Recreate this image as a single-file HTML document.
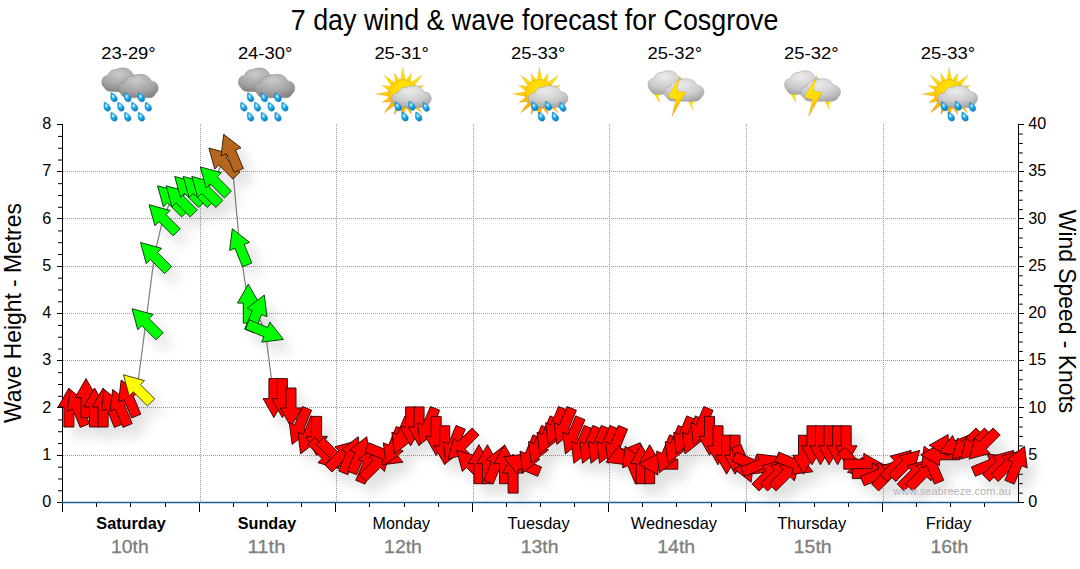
<!DOCTYPE html>
<html><head><meta charset="utf-8"><title>7 day wind &amp; wave forecast for Cosgrove</title>
<style>
html,body{margin:0;padding:0;background:#fff;}
body{width:1080px;height:569px;overflow:hidden;font-family:"Liberation Sans",sans-serif;}
svg{display:block;}
text{font-family:"Liberation Sans",sans-serif;}
</style></head><body>
<svg width="1080" height="569" viewBox="0 0 1080 569">
<defs>
<filter id="sh" x="-50%" y="-50%" width="250%" height="250%"><feGaussianBlur stdDeviation="6.5"/></filter>
</defs>
<rect width="1080" height="569" fill="#fff"/>

<text x="534.6" y="30" font-size="30" text-anchor="middle" fill="#000" textLength="487.6" lengthAdjust="spacingAndGlyphs">7 day wind &amp; wave forecast for Cosgrove</text>
<g stroke="#9a9a9a" stroke-width="1" stroke-dasharray="1 1" fill="none"><line x1="63.0" y1="455.5" x2="1016.0" y2="455.5"/><line x1="63.0" y1="407.5" x2="1016.0" y2="407.5"/><line x1="63.0" y1="360.5" x2="1016.0" y2="360.5"/><line x1="63.0" y1="313.5" x2="1016.0" y2="313.5"/><line x1="63.0" y1="266.5" x2="1016.0" y2="266.5"/><line x1="63.0" y1="218.5" x2="1016.0" y2="218.5"/><line x1="63.0" y1="171.5" x2="1016.0" y2="171.5"/><line x1="200.5" y1="124.0" x2="200.5" y2="502.0"/><line x1="336.5" y1="124.0" x2="336.5" y2="502.0"/><line x1="473.5" y1="124.0" x2="473.5" y2="502.0"/><line x1="609.5" y1="124.0" x2="609.5" y2="502.0"/><line x1="746.5" y1="124.0" x2="746.5" y2="502.0"/><line x1="883.5" y1="124.0" x2="883.5" y2="502.0"/></g>
<g stroke="#000" stroke-width="1" fill="none"><line x1="62.5" y1="124.0" x2="62.5" y2="512.0"/><line x1="1018.5" y1="124.0" x2="1018.5" y2="503.0"/><line x1="57" y1="502.5" x2="62" y2="502.5"/><line x1="58" y1="490.79" x2="62" y2="490.79"/><line x1="58" y1="478.98" x2="62" y2="478.98"/><line x1="58" y1="467.16" x2="62" y2="467.16"/><line x1="57" y1="455.5" x2="62" y2="455.5"/><line x1="58" y1="443.54" x2="62" y2="443.54"/><line x1="58" y1="431.73" x2="62" y2="431.73"/><line x1="58" y1="419.91" x2="62" y2="419.91"/><line x1="57" y1="407.5" x2="62" y2="407.5"/><line x1="58" y1="396.29" x2="62" y2="396.29"/><line x1="58" y1="384.48" x2="62" y2="384.48"/><line x1="58" y1="372.66" x2="62" y2="372.66"/><line x1="57" y1="360.5" x2="62" y2="360.5"/><line x1="58" y1="349.04" x2="62" y2="349.04"/><line x1="58" y1="337.23" x2="62" y2="337.23"/><line x1="58" y1="325.41" x2="62" y2="325.41"/><line x1="57" y1="313.5" x2="62" y2="313.5"/><line x1="58" y1="301.79" x2="62" y2="301.79"/><line x1="58" y1="289.98" x2="62" y2="289.98"/><line x1="58" y1="278.16" x2="62" y2="278.16"/><line x1="57" y1="266.5" x2="62" y2="266.5"/><line x1="58" y1="254.54" x2="62" y2="254.54"/><line x1="58" y1="242.72" x2="62" y2="242.72"/><line x1="58" y1="230.91" x2="62" y2="230.91"/><line x1="57" y1="218.5" x2="62" y2="218.5"/><line x1="58" y1="207.29" x2="62" y2="207.29"/><line x1="58" y1="195.47" x2="62" y2="195.47"/><line x1="58" y1="183.66" x2="62" y2="183.66"/><line x1="57" y1="171.5" x2="62" y2="171.5"/><line x1="58" y1="160.04" x2="62" y2="160.04"/><line x1="58" y1="148.22" x2="62" y2="148.22"/><line x1="58" y1="136.41" x2="62" y2="136.41"/><line x1="57" y1="124.5" x2="62" y2="124.5"/><line x1="1019" y1="502.5" x2="1024" y2="502.5"/><line x1="1019" y1="493.15" x2="1022.8" y2="493.15"/><line x1="1019" y1="483.7" x2="1022.8" y2="483.7"/><line x1="1019" y1="474.25" x2="1022.8" y2="474.25"/><line x1="1019" y1="464.8" x2="1022.8" y2="464.8"/><line x1="1019" y1="455.5" x2="1024" y2="455.5"/><line x1="1019" y1="445.9" x2="1022.8" y2="445.9"/><line x1="1019" y1="436.45" x2="1022.8" y2="436.45"/><line x1="1019" y1="427.0" x2="1022.8" y2="427.0"/><line x1="1019" y1="417.55" x2="1022.8" y2="417.55"/><line x1="1019" y1="407.5" x2="1024" y2="407.5"/><line x1="1019" y1="398.65" x2="1022.8" y2="398.65"/><line x1="1019" y1="389.2" x2="1022.8" y2="389.2"/><line x1="1019" y1="379.75" x2="1022.8" y2="379.75"/><line x1="1019" y1="370.3" x2="1022.8" y2="370.3"/><line x1="1019" y1="360.5" x2="1024" y2="360.5"/><line x1="1019" y1="351.4" x2="1022.8" y2="351.4"/><line x1="1019" y1="341.95" x2="1022.8" y2="341.95"/><line x1="1019" y1="332.5" x2="1022.8" y2="332.5"/><line x1="1019" y1="323.05" x2="1022.8" y2="323.05"/><line x1="1019" y1="313.5" x2="1024" y2="313.5"/><line x1="1019" y1="304.15" x2="1022.8" y2="304.15"/><line x1="1019" y1="294.7" x2="1022.8" y2="294.7"/><line x1="1019" y1="285.25" x2="1022.8" y2="285.25"/><line x1="1019" y1="275.8" x2="1022.8" y2="275.8"/><line x1="1019" y1="266.5" x2="1024" y2="266.5"/><line x1="1019" y1="256.9" x2="1022.8" y2="256.9"/><line x1="1019" y1="247.45" x2="1022.8" y2="247.45"/><line x1="1019" y1="238.0" x2="1022.8" y2="238.0"/><line x1="1019" y1="228.55" x2="1022.8" y2="228.55"/><line x1="1019" y1="218.5" x2="1024" y2="218.5"/><line x1="1019" y1="209.65" x2="1022.8" y2="209.65"/><line x1="1019" y1="200.2" x2="1022.8" y2="200.2"/><line x1="1019" y1="190.75" x2="1022.8" y2="190.75"/><line x1="1019" y1="181.3" x2="1022.8" y2="181.3"/><line x1="1019" y1="171.5" x2="1024" y2="171.5"/><line x1="1019" y1="162.4" x2="1022.8" y2="162.4"/><line x1="1019" y1="152.95" x2="1022.8" y2="152.95"/><line x1="1019" y1="143.5" x2="1022.8" y2="143.5"/><line x1="1019" y1="134.05" x2="1022.8" y2="134.05"/><line x1="1019" y1="124.5" x2="1024" y2="124.5"/><line x1="62.5" y1="502.0" x2="62.5" y2="512.0"/><line x1="96.5" y1="502.0" x2="96.5" y2="507.0"/><line x1="130.5" y1="502.0" x2="130.5" y2="507.0"/><line x1="165.5" y1="502.0" x2="165.5" y2="507.0"/><line x1="199.5" y1="502.0" x2="199.5" y2="512.0"/><line x1="233.5" y1="502.0" x2="233.5" y2="507.0"/><line x1="267.5" y1="502.0" x2="267.5" y2="507.0"/><line x1="301.5" y1="502.0" x2="301.5" y2="507.0"/><line x1="335.5" y1="502.0" x2="335.5" y2="512.0"/><line x1="369.5" y1="502.0" x2="369.5" y2="507.0"/><line x1="404.5" y1="502.0" x2="404.5" y2="507.0"/><line x1="438.5" y1="502.0" x2="438.5" y2="507.0"/><line x1="472.5" y1="502.0" x2="472.5" y2="512.0"/><line x1="506.5" y1="502.0" x2="506.5" y2="507.0"/><line x1="540.5" y1="502.0" x2="540.5" y2="507.0"/><line x1="574.5" y1="502.0" x2="574.5" y2="507.0"/><line x1="608.5" y1="502.0" x2="608.5" y2="512.0"/><line x1="642.5" y1="502.0" x2="642.5" y2="507.0"/><line x1="676.5" y1="502.0" x2="676.5" y2="507.0"/><line x1="711.5" y1="502.0" x2="711.5" y2="507.0"/><line x1="745.5" y1="502.0" x2="745.5" y2="512.0"/><line x1="779.5" y1="502.0" x2="779.5" y2="507.0"/><line x1="814.5" y1="502.0" x2="814.5" y2="507.0"/><line x1="848.5" y1="502.0" x2="848.5" y2="507.0"/><line x1="882.5" y1="502.0" x2="882.5" y2="512.0"/><line x1="916.5" y1="502.0" x2="916.5" y2="507.0"/><line x1="950.5" y1="502.0" x2="950.5" y2="507.0"/><line x1="984.5" y1="502.0" x2="984.5" y2="507.0"/></g>
<line x1="62.0" y1="502.5" x2="1018.0" y2="502.5" stroke="#1f5f98" stroke-width="1.5"/>
<polyline points="68.9,407.5 77.4,407.5 86.0,398.1 94.5,407.5 103.1,407.5 111.6,407.5 120.1,407.5 128.7,398.1 137.2,388.6 145.8,322.5 154.3,256.3 162.9,218.5 171.4,199.6 179.9,199.6 188.5,190.2 197.0,190.2 205.6,190.2 214.1,180.7 222.6,161.8 231.2,152.4 239.7,246.9 248.3,303.6 256.8,313.0 265.4,331.9 273.9,398.1 282.4,398.1 291.0,407.5 299.5,426.4 308.1,435.9 316.6,435.9 325.1,454.8 333.7,454.8 342.2,454.8 350.8,454.8 359.3,454.8 367.8,464.2 376.4,464.2 384.9,454.8 393.5,446.4 402.0,435.9 410.6,426.4 419.1,426.4 427.6,426.4 436.2,435.9 444.7,445.3 453.3,445.3 461.8,445.3 470.3,464.2 478.9,464.2 487.4,464.2 496.0,464.2 504.5,464.2 513.1,473.6 521.6,464.2 530.1,454.8 538.7,445.3 547.2,435.9 555.8,426.4 564.3,426.4 572.8,435.9 581.4,445.3 589.9,445.3 598.5,445.3 607.0,445.3 615.5,445.3 624.1,454.8 632.6,464.2 641.2,464.2 649.7,464.2 658.3,464.2 666.8,454.8 675.3,445.3 683.9,435.9 692.4,435.9 701.0,426.4 709.5,435.9 718.0,445.3 726.6,454.8 735.1,454.8 743.7,464.2 752.2,464.2 760.8,464.2 769.3,473.6 777.8,473.6 786.4,473.6 794.9,464.2 803.5,454.8 812.0,445.3 820.5,445.3 829.1,445.3 837.6,445.3 846.2,445.3 854.7,464.2 863.3,464.2 871.8,473.6 880.3,473.6 888.9,473.6 897.4,464.2 906.0,464.2 914.5,473.6 923.0,473.6 931.6,464.2 940.1,454.8 948.7,445.3 957.2,445.3 965.7,445.3 974.3,445.3 982.8,445.3 991.4,464.2 999.9,464.2 1008.5,464.2 1017.0,464.2" fill="none" stroke="#808080" stroke-width="1.2"/>
<g fill="#000" opacity="0.125" filter="url(#sh)"><path d="M77.9 399.0 L88.7 418.0 L82.9 418.0 L82.9 438.0 L72.9 438.0 L72.9 418.0 L67.1 418.0Z"/><path d="M79.0 400.5 L96.2 413.9 L90.9 416.1 L98.5 434.6 L89.3 438.4 L81.6 420.0 L76.3 422.2Z"/><path d="M95.0 389.6 L105.8 408.6 L100.0 408.6 L100.0 428.6 L90.0 428.6 L90.0 408.6 L84.2 408.6Z"/><path d="M103.5 399.0 L114.3 418.0 L108.5 418.0 L108.5 438.0 L98.5 438.0 L98.5 418.0 L92.7 418.0Z"/><path d="M112.1 399.0 L122.9 418.0 L117.1 418.0 L117.1 438.0 L107.1 438.0 L107.1 418.0 L101.3 418.0Z"/><path d="M113.1 400.5 L130.4 413.9 L125.0 416.1 L132.7 434.6 L123.4 438.4 L115.8 420.0 L110.4 422.2Z"/><path d="M121.7 400.5 L138.9 413.9 L133.6 416.1 L141.2 434.6 L132.0 438.4 L124.3 420.0 L119.0 422.2Z"/><path d="M130.2 391.0 L147.5 404.5 L142.1 406.7 L149.8 425.2 L140.5 429.0 L132.9 410.5 L127.5 412.7Z"/><path d="M132.4 385.8 L153.5 391.6 L149.4 395.7 L163.6 409.9 L156.5 416.9 L142.3 402.8 L138.2 406.9Z"/><path d="M141.0 319.7 L162.1 325.5 L158.0 329.6 L172.1 343.7 L165.0 350.8 L150.9 336.6 L146.8 340.7Z"/><path d="M149.5 253.5 L170.6 259.3 L166.5 263.4 L180.6 277.6 L173.6 284.6 L159.4 270.5 L155.3 274.6Z"/><path d="M158.1 215.7 L179.1 221.5 L175.0 225.6 L189.2 239.8 L182.1 246.8 L168.0 232.7 L163.9 236.8Z"/><path d="M166.6 196.8 L187.7 202.6 L183.6 206.7 L197.7 220.9 L190.6 227.9 L176.5 213.8 L172.4 217.9Z"/><path d="M175.1 196.8 L196.2 202.6 L192.1 206.7 L206.3 220.9 L199.2 227.9 L185.0 213.8 L180.9 217.9Z"/><path d="M183.7 187.4 L204.8 193.2 L200.7 197.3 L214.8 211.4 L207.7 218.5 L193.6 204.3 L189.5 208.4Z"/><path d="M192.2 187.4 L213.3 193.2 L209.2 197.3 L223.3 211.4 L216.3 218.5 L202.1 204.3 L198.0 208.4Z"/><path d="M200.8 187.4 L221.8 193.2 L217.7 197.3 L231.9 211.4 L224.8 218.5 L210.7 204.3 L206.6 208.4Z"/><path d="M209.3 177.9 L230.4 183.7 L226.3 187.8 L240.4 202.0 L233.4 209.0 L219.2 194.9 L215.1 199.0Z"/><path d="M217.9 159.0 L238.9 164.8 L234.8 168.9 L249.0 183.1 L241.9 190.1 L227.8 176.0 L223.7 180.1Z"/><path d="M232.7 145.3 L250.0 158.8 L244.6 161.0 L252.3 179.5 L243.0 183.3 L235.4 164.8 L230.0 167.0Z"/><path d="M241.3 239.8 L258.5 253.3 L253.2 255.5 L260.8 274.0 L251.6 277.8 L243.9 259.3 L238.6 261.5Z"/><path d="M257.3 295.1 L268.1 314.1 L262.3 314.1 L262.3 334.1 L252.3 334.1 L252.3 314.1 L246.5 314.1Z"/><path d="M273.3 306.0 L276.0 327.7 L270.6 325.5 L263.0 343.9 L253.7 340.1 L261.4 321.6 L256.0 319.4Z"/><path d="M292.4 350.4 L270.7 353.1 L272.9 347.7 L254.4 340.1 L258.2 330.8 L276.7 338.5 L278.9 333.1Z"/><path d="M282.9 428.6 L272.1 409.6 L277.9 409.6 L277.9 389.6 L287.9 389.6 L287.9 409.6 L293.7 409.6Z"/><path d="M291.4 428.6 L280.6 409.6 L286.4 409.6 L286.4 389.6 L296.4 389.6 L296.4 409.6 L302.2 409.6Z"/><path d="M300.0 438.0 L289.2 419.0 L295.0 419.0 L295.0 399.0 L305.0 399.0 L305.0 419.0 L310.8 419.0Z"/><path d="M301.1 455.4 L298.3 433.7 L303.7 435.9 L311.4 417.5 L320.6 421.3 L312.9 439.8 L318.3 442.0Z"/><path d="M309.6 464.9 L306.9 443.2 L312.2 445.4 L319.9 426.9 L329.1 430.7 L321.5 449.2 L326.8 451.4Z"/><path d="M325.6 466.4 L314.8 447.4 L320.6 447.4 L320.6 427.4 L330.6 427.4 L330.6 447.4 L336.4 447.4Z"/><path d="M347.9 479.5 L326.9 473.7 L331.0 469.6 L316.8 455.5 L323.9 448.4 L338.0 462.6 L342.1 458.5Z"/><path d="M356.5 479.5 L335.4 473.7 L339.5 469.6 L325.4 455.5 L332.4 448.4 L346.6 462.6 L350.7 458.5Z"/><path d="M365.0 452.0 L359.2 473.0 L355.1 468.9 L341.0 483.1 L333.9 476.0 L348.0 461.9 L343.9 457.8Z"/><path d="M367.2 447.7 L369.9 469.4 L364.6 467.2 L356.9 485.7 L347.7 481.9 L355.3 463.4 L350.0 461.2Z"/><path d="M375.8 447.7 L378.5 469.4 L373.1 467.2 L365.5 485.7 L356.2 481.9 L363.9 463.4 L358.5 461.2Z"/><path d="M384.3 457.2 L387.0 478.9 L381.7 476.7 L374.0 495.1 L364.8 491.3 L372.4 472.8 L367.1 470.6Z"/><path d="M399.2 461.4 L393.4 482.5 L389.3 478.4 L375.1 492.5 L368.1 485.5 L382.2 471.3 L378.1 467.2Z"/><path d="M411.9 473.2 L390.3 475.9 L392.5 470.6 L374.0 462.9 L377.8 453.7 L396.3 461.3 L398.5 456.0Z"/><path d="M395.0 475.4 L392.3 453.8 L397.7 456.0 L405.3 437.5 L414.6 441.3 L406.9 459.8 L412.3 462.0Z"/><path d="M403.6 464.9 L400.8 443.2 L406.2 445.4 L413.9 426.9 L423.1 430.7 L415.4 449.2 L420.8 451.4Z"/><path d="M419.6 456.9 L408.8 437.9 L414.6 437.9 L414.6 417.9 L424.6 417.9 L424.6 437.9 L430.4 437.9Z"/><path d="M428.1 456.9 L417.3 437.9 L423.1 437.9 L423.1 417.9 L433.1 417.9 L433.1 437.9 L438.9 437.9Z"/><path d="M429.2 455.4 L426.5 433.7 L431.8 435.9 L439.5 417.5 L448.7 421.3 L441.1 439.8 L446.4 442.0Z"/><path d="M445.2 466.4 L434.4 447.4 L440.2 447.4 L440.2 427.4 L450.2 427.4 L450.2 447.4 L456.0 447.4Z"/><path d="M453.7 475.8 L442.9 456.8 L448.7 456.8 L448.7 436.8 L458.7 436.8 L458.7 456.8 L464.5 456.8Z"/><path d="M454.8 474.3 L452.1 452.6 L457.5 454.8 L465.1 436.4 L474.3 440.2 L466.7 458.7 L472.0 460.9Z"/><path d="M457.0 470.1 L462.8 449.0 L466.9 453.1 L481.1 439.0 L488.1 446.0 L474.0 460.2 L478.1 464.3Z"/><path d="M465.6 461.4 L486.6 467.2 L482.5 471.3 L496.7 485.5 L489.6 492.5 L475.5 478.4 L471.4 482.5Z"/><path d="M487.9 455.7 L498.7 474.7 L492.9 474.7 L492.9 494.7 L482.9 494.7 L482.9 474.7 L477.1 474.7Z"/><path d="M496.4 455.7 L507.2 474.7 L501.4 474.7 L501.4 494.7 L491.4 494.7 L491.4 474.7 L485.6 474.7Z"/><path d="M512.4 457.2 L515.1 478.9 L509.8 476.7 L502.1 495.1 L492.9 491.3 L500.5 472.8 L495.2 470.6Z"/><path d="M513.5 455.7 L524.3 474.7 L518.5 474.7 L518.5 494.7 L508.5 494.7 L508.5 474.7 L502.7 474.7Z"/><path d="M522.1 465.1 L532.9 484.1 L527.1 484.1 L527.1 504.1 L517.1 504.1 L517.1 484.1 L511.3 484.1Z"/><path d="M512.6 467.7 L534.3 465.0 L532.0 470.4 L550.5 478.0 L546.7 487.3 L528.2 479.6 L526.0 485.0Z"/><path d="M531.7 483.8 L529.0 462.1 L534.3 464.3 L542.0 445.8 L551.2 449.6 L543.6 468.1 L548.9 470.3Z"/><path d="M540.2 474.3 L537.5 452.6 L542.9 454.8 L550.5 436.4 L559.8 440.2 L552.1 458.7 L557.5 460.9Z"/><path d="M548.8 464.9 L546.0 443.2 L551.4 445.4 L559.1 426.9 L568.3 430.7 L560.6 449.2 L566.0 451.4Z"/><path d="M557.3 455.4 L554.6 433.7 L559.9 435.9 L567.6 417.5 L576.8 421.3 L569.2 439.8 L574.5 442.0Z"/><path d="M565.8 455.4 L563.1 433.7 L568.5 435.9 L576.1 417.5 L585.4 421.3 L577.7 439.8 L583.1 442.0Z"/><path d="M574.4 464.9 L571.7 443.2 L577.0 445.4 L584.7 426.9 L593.9 430.7 L586.3 449.2 L591.6 451.4Z"/><path d="M582.9 474.3 L580.2 452.6 L585.6 454.8 L593.2 436.4 L602.5 440.2 L594.8 458.7 L600.2 460.9Z"/><path d="M591.5 474.3 L588.8 452.6 L594.1 454.8 L601.8 436.4 L611.0 440.2 L603.4 458.7 L608.7 460.9Z"/><path d="M600.0 474.3 L597.3 452.6 L602.7 454.8 L610.3 436.4 L619.5 440.2 L611.9 458.7 L617.3 460.9Z"/><path d="M608.5 474.3 L605.8 452.6 L611.2 454.8 L618.9 436.4 L628.1 440.2 L620.4 458.7 L625.8 460.9Z"/><path d="M617.1 474.3 L614.4 452.6 L619.7 454.8 L627.4 436.4 L636.6 440.2 L629.0 458.7 L634.3 460.9Z"/><path d="M615.1 473.2 L628.5 456.0 L630.7 461.3 L649.2 453.7 L653.0 462.9 L634.5 470.6 L636.8 475.9Z"/><path d="M634.2 457.2 L651.4 470.6 L646.1 472.8 L653.7 491.3 L644.5 495.1 L636.8 476.7 L631.5 478.9Z"/><path d="M650.2 455.7 L661.0 474.7 L655.2 474.7 L655.2 494.7 L645.2 494.7 L645.2 474.7 L639.4 474.7Z"/><path d="M658.7 455.7 L669.5 474.7 L663.7 474.7 L663.7 494.7 L653.7 494.7 L653.7 474.7 L647.9 474.7Z"/><path d="M647.8 475.2 L666.8 464.4 L666.8 470.2 L686.8 470.2 L686.8 480.2 L666.8 480.2 L666.8 486.0Z"/><path d="M668.3 483.8 L665.6 462.1 L671.0 464.3 L678.6 445.8 L687.9 449.6 L680.2 468.1 L685.6 470.3Z"/><path d="M676.9 474.3 L674.2 452.6 L679.5 454.8 L687.2 436.4 L696.4 440.2 L688.8 458.7 L694.1 460.9Z"/><path d="M685.4 464.9 L682.7 443.2 L688.1 445.4 L695.7 426.9 L705.0 430.7 L697.3 449.2 L702.7 451.4Z"/><path d="M694.0 464.9 L691.3 443.2 L696.6 445.4 L704.3 426.9 L713.5 430.7 L705.9 449.2 L711.2 451.4Z"/><path d="M702.5 455.4 L699.8 433.7 L705.2 435.9 L712.8 417.5 L722.0 421.3 L714.4 439.8 L719.8 442.0Z"/><path d="M718.5 466.4 L707.7 447.4 L713.5 447.4 L713.5 427.4 L723.5 427.4 L723.5 447.4 L729.3 447.4Z"/><path d="M727.0 475.8 L716.2 456.8 L722.0 456.8 L722.0 436.8 L732.0 436.8 L732.0 456.8 L737.8 456.8Z"/><path d="M735.6 485.2 L724.8 466.2 L730.6 466.2 L730.6 446.2 L740.6 446.2 L740.6 466.2 L746.4 466.2Z"/><path d="M744.1 485.2 L733.3 466.2 L739.1 466.2 L739.1 446.2 L749.1 446.2 L749.1 466.2 L754.9 466.2Z"/><path d="M760.1 493.2 L742.9 479.8 L748.2 477.6 L740.6 459.1 L749.8 455.3 L757.5 473.7 L762.8 471.5Z"/><path d="M779.2 482.7 L757.5 485.4 L759.8 480.0 L741.3 472.4 L745.1 463.1 L763.6 470.8 L765.8 465.4Z"/><path d="M787.8 467.7 L774.3 485.0 L772.1 479.6 L753.7 487.3 L749.8 478.0 L768.3 470.4 L766.1 465.0Z"/><path d="M792.1 470.9 L786.3 491.9 L782.2 487.8 L768.0 502.0 L761.0 494.9 L775.1 480.8 L771.0 476.7Z"/><path d="M800.6 470.9 L794.8 491.9 L790.7 487.8 L776.6 502.0 L769.5 494.9 L783.7 480.8 L779.6 476.7Z"/><path d="M809.2 470.9 L803.4 491.9 L799.3 487.8 L785.1 502.0 L778.1 494.9 L792.2 480.8 L788.1 476.7Z"/><path d="M821.9 482.7 L800.2 485.4 L802.5 480.0 L784.0 472.4 L787.8 463.1 L806.3 470.8 L808.5 465.4Z"/><path d="M812.5 485.2 L801.7 466.2 L807.5 466.2 L807.5 446.2 L817.5 446.2 L817.5 466.2 L823.3 466.2Z"/><path d="M821.0 475.8 L810.2 456.8 L816.0 456.8 L816.0 436.8 L826.0 436.8 L826.0 456.8 L831.8 456.8Z"/><path d="M829.5 475.8 L818.7 456.8 L824.5 456.8 L824.5 436.8 L834.5 436.8 L834.5 456.8 L840.3 456.8Z"/><path d="M838.1 475.8 L827.3 456.8 L833.1 456.8 L833.1 436.8 L843.1 436.8 L843.1 456.8 L848.9 456.8Z"/><path d="M846.6 475.8 L835.8 456.8 L841.6 456.8 L841.6 436.8 L851.6 436.8 L851.6 456.8 L857.4 456.8Z"/><path d="M855.2 475.8 L844.4 456.8 L850.2 456.8 L850.2 436.8 L860.2 436.8 L860.2 456.8 L866.0 456.8Z"/><path d="M877.5 489.0 L856.4 483.2 L860.5 479.1 L846.4 464.9 L853.5 457.9 L867.6 472.0 L871.7 467.9Z"/><path d="M891.8 475.2 L872.8 486.0 L872.8 480.2 L852.8 480.2 L852.8 470.2 L872.8 470.2 L872.8 464.4Z"/><path d="M900.3 484.6 L881.3 495.4 L881.3 489.6 L861.3 489.6 L861.3 479.6 L881.3 479.6 L881.3 473.8Z"/><path d="M907.3 477.2 L893.9 494.4 L891.7 489.1 L873.2 496.7 L869.4 487.5 L887.9 479.8 L885.7 474.5Z"/><path d="M911.7 470.9 L905.9 491.9 L901.8 487.8 L887.6 502.0 L880.6 494.9 L894.7 480.8 L890.6 476.7Z"/><path d="M920.2 461.4 L914.4 482.5 L910.3 478.4 L896.2 492.5 L889.1 485.5 L903.2 471.3 L899.1 467.2Z"/><path d="M928.7 461.4 L922.9 482.5 L918.8 478.4 L904.7 492.5 L897.6 485.5 L911.8 471.3 L907.7 467.2Z"/><path d="M937.3 470.9 L931.5 491.9 L927.4 487.8 L913.2 502.0 L906.2 494.9 L920.3 480.8 L916.2 476.7Z"/><path d="M945.8 470.9 L940.0 491.9 L935.9 487.8 L921.8 502.0 L914.7 494.9 L928.9 480.8 L924.8 476.7Z"/><path d="M933.1 457.2 L950.4 470.6 L945.0 472.8 L952.7 491.3 L943.4 495.1 L935.8 476.7 L930.4 478.9Z"/><path d="M929.6 465.8 L948.6 454.9 L948.6 460.8 L968.6 460.8 L968.6 470.8 L948.6 470.8 L948.6 476.6Z"/><path d="M938.2 456.3 L957.2 445.5 L957.2 451.3 L977.2 451.3 L977.2 461.3 L957.2 461.3 L957.2 467.1Z"/><path d="M948.2 463.8 L961.6 446.5 L963.8 451.9 L982.3 444.2 L986.1 453.5 L967.7 461.1 L969.9 466.5Z"/><path d="M961.0 470.1 L966.8 449.0 L970.9 453.1 L985.0 439.0 L992.1 446.0 L977.9 460.2 L982.0 464.3Z"/><path d="M969.5 470.1 L975.3 449.0 L979.4 453.1 L993.5 439.0 L1000.6 446.0 L986.5 460.2 L990.6 464.3Z"/><path d="M978.0 470.1 L983.8 449.0 L987.9 453.1 L1002.1 439.0 L1009.2 446.0 L995.0 460.2 L999.1 464.3Z"/><path d="M1018.4 467.7 L1005.0 485.0 L1002.7 479.6 L984.3 487.3 L980.4 478.0 L998.9 470.4 L996.7 465.0Z"/><path d="M1022.7 461.4 L1016.9 482.5 L1012.8 478.4 L998.7 492.5 L991.6 485.5 L1005.7 471.3 L1001.6 467.2Z"/><path d="M1031.2 461.4 L1025.4 482.5 L1021.3 478.4 L1007.2 492.5 L1000.1 485.5 L1014.3 471.3 L1010.2 467.2Z"/><path d="M1033.5 457.2 L1036.2 478.9 L1030.8 476.7 L1023.2 495.1 L1013.9 491.3 L1021.6 472.8 L1016.2 470.6Z"/></g>
<path d="M68.9 388.0 L79.7 407.0 L73.9 407.0 L73.9 427.0 L63.9 427.0 L63.9 407.0 L58.1 407.0Z" fill="#ff0000" stroke="#2a0000" stroke-width="0.9" stroke-linejoin="miter"/>
<path d="M70.0 389.5 L87.2 402.9 L81.9 405.1 L89.5 423.6 L80.3 427.4 L72.6 409.0 L67.3 411.2Z" fill="#ff0000" stroke="#2a0000" stroke-width="0.9" stroke-linejoin="miter"/>
<path d="M86.0 378.6 L96.8 397.6 L91.0 397.6 L91.0 417.6 L81.0 417.6 L81.0 397.6 L75.2 397.6Z" fill="#ff0000" stroke="#2a0000" stroke-width="0.9" stroke-linejoin="miter"/>
<path d="M94.5 388.0 L105.3 407.0 L99.5 407.0 L99.5 427.0 L89.5 427.0 L89.5 407.0 L83.7 407.0Z" fill="#ff0000" stroke="#2a0000" stroke-width="0.9" stroke-linejoin="miter"/>
<path d="M103.1 388.0 L113.9 407.0 L108.1 407.0 L108.1 427.0 L98.1 427.0 L98.1 407.0 L92.3 407.0Z" fill="#ff0000" stroke="#2a0000" stroke-width="0.9" stroke-linejoin="miter"/>
<path d="M104.1 389.5 L121.4 402.9 L116.0 405.1 L123.7 423.6 L114.4 427.4 L106.8 409.0 L101.4 411.2Z" fill="#ff0000" stroke="#2a0000" stroke-width="0.9" stroke-linejoin="miter"/>
<path d="M112.7 389.5 L129.9 402.9 L124.6 405.1 L132.2 423.6 L123.0 427.4 L115.3 409.0 L110.0 411.2Z" fill="#ff0000" stroke="#2a0000" stroke-width="0.9" stroke-linejoin="miter"/>
<path d="M121.2 380.0 L138.5 393.5 L133.1 395.7 L140.8 414.2 L131.5 418.0 L123.9 399.5 L118.5 401.7Z" fill="#ff0000" stroke="#2a0000" stroke-width="0.9" stroke-linejoin="miter"/>
<path d="M123.4 374.8 L144.5 380.6 L140.4 384.7 L154.6 398.9 L147.5 405.9 L133.3 391.8 L129.2 395.9Z" fill="#ffff00" stroke="#303000" stroke-width="0.9" stroke-linejoin="miter"/>
<path d="M132.0 308.7 L153.1 314.5 L149.0 318.6 L163.1 332.7 L156.0 339.8 L141.9 325.6 L137.8 329.7Z" fill="#00ff00" stroke="#003000" stroke-width="0.9" stroke-linejoin="miter"/>
<path d="M140.5 242.5 L161.6 248.3 L157.5 252.4 L171.6 266.6 L164.6 273.6 L150.4 259.5 L146.3 263.6Z" fill="#00ff00" stroke="#003000" stroke-width="0.9" stroke-linejoin="miter"/>
<path d="M149.1 204.7 L170.1 210.5 L166.0 214.6 L180.2 228.8 L173.1 235.8 L159.0 221.7 L154.9 225.8Z" fill="#00ff00" stroke="#003000" stroke-width="0.9" stroke-linejoin="miter"/>
<path d="M157.6 185.8 L178.7 191.6 L174.6 195.7 L188.7 209.9 L181.6 216.9 L167.5 202.8 L163.4 206.9Z" fill="#00ff00" stroke="#003000" stroke-width="0.9" stroke-linejoin="miter"/>
<path d="M166.1 185.8 L187.2 191.6 L183.1 195.7 L197.3 209.9 L190.2 216.9 L176.0 202.8 L171.9 206.9Z" fill="#00ff00" stroke="#003000" stroke-width="0.9" stroke-linejoin="miter"/>
<path d="M174.7 176.4 L195.8 182.2 L191.7 186.3 L205.8 200.4 L198.7 207.5 L184.6 193.3 L180.5 197.4Z" fill="#00ff00" stroke="#003000" stroke-width="0.9" stroke-linejoin="miter"/>
<path d="M183.2 176.4 L204.3 182.2 L200.2 186.3 L214.3 200.4 L207.3 207.5 L193.1 193.3 L189.0 197.4Z" fill="#00ff00" stroke="#003000" stroke-width="0.9" stroke-linejoin="miter"/>
<path d="M191.8 176.4 L212.8 182.2 L208.7 186.3 L222.9 200.4 L215.8 207.5 L201.7 193.3 L197.6 197.4Z" fill="#00ff00" stroke="#003000" stroke-width="0.9" stroke-linejoin="miter"/>
<path d="M200.3 166.9 L221.4 172.7 L217.3 176.8 L231.4 191.0 L224.4 198.0 L210.2 183.9 L206.1 188.0Z" fill="#00ff00" stroke="#003000" stroke-width="0.9" stroke-linejoin="miter"/>
<path d="M208.9 148.0 L229.9 153.8 L225.8 157.9 L240.0 172.1 L232.9 179.1 L218.8 165.0 L214.7 169.1Z" fill="#b5651d" stroke="#2a1804" stroke-width="0.9" stroke-linejoin="miter"/>
<path d="M223.7 134.3 L241.0 147.8 L235.6 150.0 L243.3 168.5 L234.0 172.3 L226.4 153.8 L221.0 156.0Z" fill="#b5651d" stroke="#2a1804" stroke-width="0.9" stroke-linejoin="miter"/>
<path d="M232.3 228.8 L249.5 242.3 L244.2 244.5 L251.8 263.0 L242.6 266.8 L234.9 248.3 L229.6 250.5Z" fill="#00ff00" stroke="#003000" stroke-width="0.9" stroke-linejoin="miter"/>
<path d="M248.3 284.1 L259.1 303.1 L253.3 303.1 L253.3 323.1 L243.3 323.1 L243.3 303.1 L237.5 303.1Z" fill="#00ff00" stroke="#003000" stroke-width="0.9" stroke-linejoin="miter"/>
<path d="M264.3 295.0 L267.0 316.7 L261.6 314.5 L254.0 332.9 L244.7 329.1 L252.4 310.6 L247.0 308.4Z" fill="#00ff00" stroke="#003000" stroke-width="0.9" stroke-linejoin="miter"/>
<path d="M283.4 339.4 L261.7 342.1 L263.9 336.7 L245.4 329.1 L249.2 319.8 L267.7 327.5 L269.9 322.1Z" fill="#00ff00" stroke="#003000" stroke-width="0.9" stroke-linejoin="miter"/>
<path d="M273.9 417.6 L263.1 398.6 L268.9 398.6 L268.9 378.6 L278.9 378.6 L278.9 398.6 L284.7 398.6Z" fill="#ff0000" stroke="#2a0000" stroke-width="0.9" stroke-linejoin="miter"/>
<path d="M282.4 417.6 L271.6 398.6 L277.4 398.6 L277.4 378.6 L287.4 378.6 L287.4 398.6 L293.2 398.6Z" fill="#ff0000" stroke="#2a0000" stroke-width="0.9" stroke-linejoin="miter"/>
<path d="M291.0 427.0 L280.2 408.0 L286.0 408.0 L286.0 388.0 L296.0 388.0 L296.0 408.0 L301.8 408.0Z" fill="#ff0000" stroke="#2a0000" stroke-width="0.9" stroke-linejoin="miter"/>
<path d="M292.1 444.4 L289.3 422.7 L294.7 424.9 L302.4 406.5 L311.6 410.3 L303.9 428.8 L309.3 431.0Z" fill="#ff0000" stroke="#2a0000" stroke-width="0.9" stroke-linejoin="miter"/>
<path d="M300.6 453.9 L297.9 432.2 L303.2 434.4 L310.9 415.9 L320.1 419.7 L312.5 438.2 L317.8 440.4Z" fill="#ff0000" stroke="#2a0000" stroke-width="0.9" stroke-linejoin="miter"/>
<path d="M316.6 455.4 L305.8 436.4 L311.6 436.4 L311.6 416.4 L321.6 416.4 L321.6 436.4 L327.4 436.4Z" fill="#ff0000" stroke="#2a0000" stroke-width="0.9" stroke-linejoin="miter"/>
<path d="M338.9 468.5 L317.9 462.7 L322.0 458.6 L307.8 444.5 L314.9 437.4 L329.0 451.6 L333.1 447.5Z" fill="#ff0000" stroke="#2a0000" stroke-width="0.9" stroke-linejoin="miter"/>
<path d="M347.5 468.5 L326.4 462.7 L330.5 458.6 L316.4 444.5 L323.4 437.4 L337.6 451.6 L341.7 447.5Z" fill="#ff0000" stroke="#2a0000" stroke-width="0.9" stroke-linejoin="miter"/>
<path d="M356.0 441.0 L350.2 462.0 L346.1 457.9 L332.0 472.1 L324.9 465.0 L339.0 450.9 L334.9 446.8Z" fill="#ff0000" stroke="#2a0000" stroke-width="0.9" stroke-linejoin="miter"/>
<path d="M358.2 436.7 L360.9 458.4 L355.6 456.2 L347.9 474.7 L338.7 470.9 L346.3 452.4 L341.0 450.2Z" fill="#ff0000" stroke="#2a0000" stroke-width="0.9" stroke-linejoin="miter"/>
<path d="M366.8 436.7 L369.5 458.4 L364.1 456.2 L356.5 474.7 L347.2 470.9 L354.9 452.4 L349.5 450.2Z" fill="#ff0000" stroke="#2a0000" stroke-width="0.9" stroke-linejoin="miter"/>
<path d="M375.3 446.2 L378.0 467.9 L372.7 465.7 L365.0 484.1 L355.8 480.3 L363.4 461.8 L358.1 459.6Z" fill="#ff0000" stroke="#2a0000" stroke-width="0.9" stroke-linejoin="miter"/>
<path d="M390.2 450.4 L384.4 471.5 L380.3 467.4 L366.1 481.5 L359.1 474.5 L373.2 460.3 L369.1 456.2Z" fill="#ff0000" stroke="#2a0000" stroke-width="0.9" stroke-linejoin="miter"/>
<path d="M402.9 462.2 L381.3 464.9 L383.5 459.6 L365.0 451.9 L368.8 442.7 L387.3 450.3 L389.5 445.0Z" fill="#ff0000" stroke="#2a0000" stroke-width="0.9" stroke-linejoin="miter"/>
<path d="M386.0 464.4 L383.3 442.8 L388.7 445.0 L396.3 426.5 L405.6 430.3 L397.9 448.8 L403.3 451.0Z" fill="#ff0000" stroke="#2a0000" stroke-width="0.9" stroke-linejoin="miter"/>
<path d="M394.6 453.9 L391.8 432.2 L397.2 434.4 L404.9 415.9 L414.1 419.7 L406.4 438.2 L411.8 440.4Z" fill="#ff0000" stroke="#2a0000" stroke-width="0.9" stroke-linejoin="miter"/>
<path d="M410.6 445.9 L399.8 426.9 L405.6 426.9 L405.6 406.9 L415.6 406.9 L415.6 426.9 L421.4 426.9Z" fill="#ff0000" stroke="#2a0000" stroke-width="0.9" stroke-linejoin="miter"/>
<path d="M419.1 445.9 L408.3 426.9 L414.1 426.9 L414.1 406.9 L424.1 406.9 L424.1 426.9 L429.9 426.9Z" fill="#ff0000" stroke="#2a0000" stroke-width="0.9" stroke-linejoin="miter"/>
<path d="M420.2 444.4 L417.5 422.7 L422.8 424.9 L430.5 406.5 L439.7 410.3 L432.1 428.8 L437.4 431.0Z" fill="#ff0000" stroke="#2a0000" stroke-width="0.9" stroke-linejoin="miter"/>
<path d="M436.2 455.4 L425.4 436.4 L431.2 436.4 L431.2 416.4 L441.2 416.4 L441.2 436.4 L447.0 436.4Z" fill="#ff0000" stroke="#2a0000" stroke-width="0.9" stroke-linejoin="miter"/>
<path d="M444.7 464.8 L433.9 445.8 L439.7 445.8 L439.7 425.8 L449.7 425.8 L449.7 445.8 L455.5 445.8Z" fill="#ff0000" stroke="#2a0000" stroke-width="0.9" stroke-linejoin="miter"/>
<path d="M445.8 463.3 L443.1 441.6 L448.5 443.8 L456.1 425.4 L465.3 429.2 L457.7 447.7 L463.0 449.9Z" fill="#ff0000" stroke="#2a0000" stroke-width="0.9" stroke-linejoin="miter"/>
<path d="M448.0 459.1 L453.8 438.0 L457.9 442.1 L472.1 428.0 L479.1 435.0 L465.0 449.2 L469.1 453.3Z" fill="#ff0000" stroke="#2a0000" stroke-width="0.9" stroke-linejoin="miter"/>
<path d="M456.6 450.4 L477.6 456.2 L473.5 460.3 L487.7 474.5 L480.6 481.5 L466.5 467.4 L462.4 471.5Z" fill="#ff0000" stroke="#2a0000" stroke-width="0.9" stroke-linejoin="miter"/>
<path d="M478.9 444.7 L489.7 463.7 L483.9 463.7 L483.9 483.7 L473.9 483.7 L473.9 463.7 L468.1 463.7Z" fill="#ff0000" stroke="#2a0000" stroke-width="0.9" stroke-linejoin="miter"/>
<path d="M487.4 444.7 L498.2 463.7 L492.4 463.7 L492.4 483.7 L482.4 483.7 L482.4 463.7 L476.6 463.7Z" fill="#ff0000" stroke="#2a0000" stroke-width="0.9" stroke-linejoin="miter"/>
<path d="M503.4 446.2 L506.1 467.9 L500.8 465.7 L493.1 484.1 L483.9 480.3 L491.5 461.8 L486.2 459.6Z" fill="#ff0000" stroke="#2a0000" stroke-width="0.9" stroke-linejoin="miter"/>
<path d="M504.5 444.7 L515.3 463.7 L509.5 463.7 L509.5 483.7 L499.5 483.7 L499.5 463.7 L493.7 463.7Z" fill="#ff0000" stroke="#2a0000" stroke-width="0.9" stroke-linejoin="miter"/>
<path d="M513.1 454.1 L523.9 473.1 L518.1 473.1 L518.1 493.1 L508.1 493.1 L508.1 473.1 L502.3 473.1Z" fill="#ff0000" stroke="#2a0000" stroke-width="0.9" stroke-linejoin="miter"/>
<path d="M503.6 456.7 L525.3 454.0 L523.0 459.4 L541.5 467.0 L537.7 476.3 L519.2 468.6 L517.0 474.0Z" fill="#ff0000" stroke="#2a0000" stroke-width="0.9" stroke-linejoin="miter"/>
<path d="M522.7 472.8 L520.0 451.1 L525.3 453.3 L533.0 434.8 L542.2 438.6 L534.6 457.1 L539.9 459.3Z" fill="#ff0000" stroke="#2a0000" stroke-width="0.9" stroke-linejoin="miter"/>
<path d="M531.2 463.3 L528.5 441.6 L533.9 443.8 L541.5 425.4 L550.8 429.2 L543.1 447.7 L548.5 449.9Z" fill="#ff0000" stroke="#2a0000" stroke-width="0.9" stroke-linejoin="miter"/>
<path d="M539.8 453.9 L537.0 432.2 L542.4 434.4 L550.1 415.9 L559.3 419.7 L551.6 438.2 L557.0 440.4Z" fill="#ff0000" stroke="#2a0000" stroke-width="0.9" stroke-linejoin="miter"/>
<path d="M548.3 444.4 L545.6 422.7 L550.9 424.9 L558.6 406.5 L567.8 410.3 L560.2 428.8 L565.5 431.0Z" fill="#ff0000" stroke="#2a0000" stroke-width="0.9" stroke-linejoin="miter"/>
<path d="M556.8 444.4 L554.1 422.7 L559.5 424.9 L567.1 406.5 L576.4 410.3 L568.7 428.8 L574.1 431.0Z" fill="#ff0000" stroke="#2a0000" stroke-width="0.9" stroke-linejoin="miter"/>
<path d="M565.4 453.9 L562.7 432.2 L568.0 434.4 L575.7 415.9 L584.9 419.7 L577.3 438.2 L582.6 440.4Z" fill="#ff0000" stroke="#2a0000" stroke-width="0.9" stroke-linejoin="miter"/>
<path d="M573.9 463.3 L571.2 441.6 L576.6 443.8 L584.2 425.4 L593.5 429.2 L585.8 447.7 L591.2 449.9Z" fill="#ff0000" stroke="#2a0000" stroke-width="0.9" stroke-linejoin="miter"/>
<path d="M582.5 463.3 L579.8 441.6 L585.1 443.8 L592.8 425.4 L602.0 429.2 L594.4 447.7 L599.7 449.9Z" fill="#ff0000" stroke="#2a0000" stroke-width="0.9" stroke-linejoin="miter"/>
<path d="M591.0 463.3 L588.3 441.6 L593.7 443.8 L601.3 425.4 L610.5 429.2 L602.9 447.7 L608.3 449.9Z" fill="#ff0000" stroke="#2a0000" stroke-width="0.9" stroke-linejoin="miter"/>
<path d="M599.5 463.3 L596.8 441.6 L602.2 443.8 L609.9 425.4 L619.1 429.2 L611.4 447.7 L616.8 449.9Z" fill="#ff0000" stroke="#2a0000" stroke-width="0.9" stroke-linejoin="miter"/>
<path d="M608.1 463.3 L605.4 441.6 L610.7 443.8 L618.4 425.4 L627.6 429.2 L620.0 447.7 L625.3 449.9Z" fill="#ff0000" stroke="#2a0000" stroke-width="0.9" stroke-linejoin="miter"/>
<path d="M606.1 462.2 L619.5 445.0 L621.7 450.3 L640.2 442.7 L644.0 451.9 L625.5 459.6 L627.8 464.9Z" fill="#ff0000" stroke="#2a0000" stroke-width="0.9" stroke-linejoin="miter"/>
<path d="M625.2 446.2 L642.4 459.6 L637.1 461.8 L644.7 480.3 L635.5 484.1 L627.8 465.7 L622.5 467.9Z" fill="#ff0000" stroke="#2a0000" stroke-width="0.9" stroke-linejoin="miter"/>
<path d="M641.2 444.7 L652.0 463.7 L646.2 463.7 L646.2 483.7 L636.2 483.7 L636.2 463.7 L630.4 463.7Z" fill="#ff0000" stroke="#2a0000" stroke-width="0.9" stroke-linejoin="miter"/>
<path d="M649.7 444.7 L660.5 463.7 L654.7 463.7 L654.7 483.7 L644.7 483.7 L644.7 463.7 L638.9 463.7Z" fill="#ff0000" stroke="#2a0000" stroke-width="0.9" stroke-linejoin="miter"/>
<path d="M638.8 464.2 L657.8 453.4 L657.8 459.2 L677.8 459.2 L677.8 469.2 L657.8 469.2 L657.8 475.0Z" fill="#ff0000" stroke="#2a0000" stroke-width="0.9" stroke-linejoin="miter"/>
<path d="M659.3 472.8 L656.6 451.1 L662.0 453.3 L669.6 434.8 L678.9 438.6 L671.2 457.1 L676.6 459.3Z" fill="#ff0000" stroke="#2a0000" stroke-width="0.9" stroke-linejoin="miter"/>
<path d="M667.9 463.3 L665.2 441.6 L670.5 443.8 L678.2 425.4 L687.4 429.2 L679.8 447.7 L685.1 449.9Z" fill="#ff0000" stroke="#2a0000" stroke-width="0.9" stroke-linejoin="miter"/>
<path d="M676.4 453.9 L673.7 432.2 L679.1 434.4 L686.7 415.9 L696.0 419.7 L688.3 438.2 L693.7 440.4Z" fill="#ff0000" stroke="#2a0000" stroke-width="0.9" stroke-linejoin="miter"/>
<path d="M685.0 453.9 L682.3 432.2 L687.6 434.4 L695.3 415.9 L704.5 419.7 L696.9 438.2 L702.2 440.4Z" fill="#ff0000" stroke="#2a0000" stroke-width="0.9" stroke-linejoin="miter"/>
<path d="M693.5 444.4 L690.8 422.7 L696.2 424.9 L703.8 406.5 L713.0 410.3 L705.4 428.8 L710.8 431.0Z" fill="#ff0000" stroke="#2a0000" stroke-width="0.9" stroke-linejoin="miter"/>
<path d="M709.5 455.4 L698.7 436.4 L704.5 436.4 L704.5 416.4 L714.5 416.4 L714.5 436.4 L720.3 436.4Z" fill="#ff0000" stroke="#2a0000" stroke-width="0.9" stroke-linejoin="miter"/>
<path d="M718.0 464.8 L707.2 445.8 L713.0 445.8 L713.0 425.8 L723.0 425.8 L723.0 445.8 L728.8 445.8Z" fill="#ff0000" stroke="#2a0000" stroke-width="0.9" stroke-linejoin="miter"/>
<path d="M726.6 474.2 L715.8 455.2 L721.6 455.2 L721.6 435.2 L731.6 435.2 L731.6 455.2 L737.4 455.2Z" fill="#ff0000" stroke="#2a0000" stroke-width="0.9" stroke-linejoin="miter"/>
<path d="M735.1 474.2 L724.3 455.2 L730.1 455.2 L730.1 435.2 L740.1 435.2 L740.1 455.2 L745.9 455.2Z" fill="#ff0000" stroke="#2a0000" stroke-width="0.9" stroke-linejoin="miter"/>
<path d="M751.1 482.2 L733.9 468.8 L739.2 466.6 L731.6 448.1 L740.8 444.3 L748.5 462.7 L753.8 460.5Z" fill="#ff0000" stroke="#2a0000" stroke-width="0.9" stroke-linejoin="miter"/>
<path d="M770.2 471.7 L748.5 474.4 L750.8 469.0 L732.3 461.4 L736.1 452.1 L754.6 459.8 L756.8 454.4Z" fill="#ff0000" stroke="#2a0000" stroke-width="0.9" stroke-linejoin="miter"/>
<path d="M778.8 456.7 L765.3 474.0 L763.1 468.6 L744.7 476.3 L740.8 467.0 L759.3 459.4 L757.1 454.0Z" fill="#ff0000" stroke="#2a0000" stroke-width="0.9" stroke-linejoin="miter"/>
<path d="M783.1 459.9 L777.3 480.9 L773.2 476.8 L759.0 491.0 L752.0 483.9 L766.1 469.8 L762.0 465.7Z" fill="#ff0000" stroke="#2a0000" stroke-width="0.9" stroke-linejoin="miter"/>
<path d="M791.6 459.9 L785.8 480.9 L781.7 476.8 L767.6 491.0 L760.5 483.9 L774.7 469.8 L770.6 465.7Z" fill="#ff0000" stroke="#2a0000" stroke-width="0.9" stroke-linejoin="miter"/>
<path d="M800.2 459.9 L794.4 480.9 L790.3 476.8 L776.1 491.0 L769.1 483.9 L783.2 469.8 L779.1 465.7Z" fill="#ff0000" stroke="#2a0000" stroke-width="0.9" stroke-linejoin="miter"/>
<path d="M812.9 471.7 L791.2 474.4 L793.5 469.0 L775.0 461.4 L778.8 452.1 L797.3 459.8 L799.5 454.4Z" fill="#ff0000" stroke="#2a0000" stroke-width="0.9" stroke-linejoin="miter"/>
<path d="M803.5 474.2 L792.7 455.2 L798.5 455.2 L798.5 435.2 L808.5 435.2 L808.5 455.2 L814.3 455.2Z" fill="#ff0000" stroke="#2a0000" stroke-width="0.9" stroke-linejoin="miter"/>
<path d="M812.0 464.8 L801.2 445.8 L807.0 445.8 L807.0 425.8 L817.0 425.8 L817.0 445.8 L822.8 445.8Z" fill="#ff0000" stroke="#2a0000" stroke-width="0.9" stroke-linejoin="miter"/>
<path d="M820.5 464.8 L809.7 445.8 L815.5 445.8 L815.5 425.8 L825.5 425.8 L825.5 445.8 L831.3 445.8Z" fill="#ff0000" stroke="#2a0000" stroke-width="0.9" stroke-linejoin="miter"/>
<path d="M829.1 464.8 L818.3 445.8 L824.1 445.8 L824.1 425.8 L834.1 425.8 L834.1 445.8 L839.9 445.8Z" fill="#ff0000" stroke="#2a0000" stroke-width="0.9" stroke-linejoin="miter"/>
<path d="M837.6 464.8 L826.8 445.8 L832.6 445.8 L832.6 425.8 L842.6 425.8 L842.6 445.8 L848.4 445.8Z" fill="#ff0000" stroke="#2a0000" stroke-width="0.9" stroke-linejoin="miter"/>
<path d="M846.2 464.8 L835.4 445.8 L841.2 445.8 L841.2 425.8 L851.2 425.8 L851.2 445.8 L857.0 445.8Z" fill="#ff0000" stroke="#2a0000" stroke-width="0.9" stroke-linejoin="miter"/>
<path d="M868.5 478.0 L847.4 472.2 L851.5 468.1 L837.4 453.9 L844.5 446.9 L858.6 461.0 L862.7 456.9Z" fill="#ff0000" stroke="#2a0000" stroke-width="0.9" stroke-linejoin="miter"/>
<path d="M882.8 464.2 L863.8 475.0 L863.8 469.2 L843.8 469.2 L843.8 459.2 L863.8 459.2 L863.8 453.4Z" fill="#ff0000" stroke="#2a0000" stroke-width="0.9" stroke-linejoin="miter"/>
<path d="M891.3 473.6 L872.3 484.4 L872.3 478.6 L852.3 478.6 L852.3 468.6 L872.3 468.6 L872.3 462.8Z" fill="#ff0000" stroke="#2a0000" stroke-width="0.9" stroke-linejoin="miter"/>
<path d="M898.3 466.2 L884.9 483.4 L882.7 478.1 L864.2 485.7 L860.4 476.5 L878.9 468.8 L876.7 463.5Z" fill="#ff0000" stroke="#2a0000" stroke-width="0.9" stroke-linejoin="miter"/>
<path d="M902.7 459.9 L896.9 480.9 L892.8 476.8 L878.6 491.0 L871.6 483.9 L885.7 469.8 L881.6 465.7Z" fill="#ff0000" stroke="#2a0000" stroke-width="0.9" stroke-linejoin="miter"/>
<path d="M911.2 450.4 L905.4 471.5 L901.3 467.4 L887.2 481.5 L880.1 474.5 L894.2 460.3 L890.1 456.2Z" fill="#ff0000" stroke="#2a0000" stroke-width="0.9" stroke-linejoin="miter"/>
<path d="M919.7 450.4 L913.9 471.5 L909.8 467.4 L895.7 481.5 L888.6 474.5 L902.8 460.3 L898.7 456.2Z" fill="#ff0000" stroke="#2a0000" stroke-width="0.9" stroke-linejoin="miter"/>
<path d="M928.3 459.9 L922.5 480.9 L918.4 476.8 L904.2 491.0 L897.2 483.9 L911.3 469.8 L907.2 465.7Z" fill="#ff0000" stroke="#2a0000" stroke-width="0.9" stroke-linejoin="miter"/>
<path d="M936.8 459.9 L931.0 480.9 L926.9 476.8 L912.8 491.0 L905.7 483.9 L919.9 469.8 L915.8 465.7Z" fill="#ff0000" stroke="#2a0000" stroke-width="0.9" stroke-linejoin="miter"/>
<path d="M924.1 446.2 L941.4 459.6 L936.0 461.8 L943.7 480.3 L934.4 484.1 L926.8 465.7 L921.4 467.9Z" fill="#ff0000" stroke="#2a0000" stroke-width="0.9" stroke-linejoin="miter"/>
<path d="M920.6 454.8 L939.6 443.9 L939.6 449.8 L959.6 449.8 L959.6 459.8 L939.6 459.8 L939.6 465.6Z" fill="#ff0000" stroke="#2a0000" stroke-width="0.9" stroke-linejoin="miter"/>
<path d="M929.2 445.3 L948.2 434.5 L948.2 440.3 L968.2 440.3 L968.2 450.3 L948.2 450.3 L948.2 456.1Z" fill="#ff0000" stroke="#2a0000" stroke-width="0.9" stroke-linejoin="miter"/>
<path d="M939.2 452.8 L952.6 435.5 L954.8 440.9 L973.3 433.2 L977.1 442.5 L958.7 450.1 L960.9 455.5Z" fill="#ff0000" stroke="#2a0000" stroke-width="0.9" stroke-linejoin="miter"/>
<path d="M952.0 459.1 L957.8 438.0 L961.9 442.1 L976.0 428.0 L983.1 435.0 L968.9 449.2 L973.0 453.3Z" fill="#ff0000" stroke="#2a0000" stroke-width="0.9" stroke-linejoin="miter"/>
<path d="M960.5 459.1 L966.3 438.0 L970.4 442.1 L984.5 428.0 L991.6 435.0 L977.5 449.2 L981.6 453.3Z" fill="#ff0000" stroke="#2a0000" stroke-width="0.9" stroke-linejoin="miter"/>
<path d="M969.0 459.1 L974.8 438.0 L978.9 442.1 L993.1 428.0 L1000.2 435.0 L986.0 449.2 L990.1 453.3Z" fill="#ff0000" stroke="#2a0000" stroke-width="0.9" stroke-linejoin="miter"/>
<path d="M1009.4 456.7 L996.0 474.0 L993.7 468.6 L975.3 476.3 L971.4 467.0 L989.9 459.4 L987.7 454.0Z" fill="#ff0000" stroke="#2a0000" stroke-width="0.9" stroke-linejoin="miter"/>
<path d="M1013.7 450.4 L1007.9 471.5 L1003.8 467.4 L989.7 481.5 L982.6 474.5 L996.7 460.3 L992.6 456.2Z" fill="#ff0000" stroke="#2a0000" stroke-width="0.9" stroke-linejoin="miter"/>
<path d="M1022.2 450.4 L1016.4 471.5 L1012.3 467.4 L998.2 481.5 L991.1 474.5 L1005.3 460.3 L1001.2 456.2Z" fill="#ff0000" stroke="#2a0000" stroke-width="0.9" stroke-linejoin="miter"/>
<path d="M1024.5 446.2 L1027.2 467.9 L1021.8 465.7 L1014.2 484.1 L1004.9 480.3 L1012.6 461.8 L1007.2 459.6Z" fill="#ff0000" stroke="#2a0000" stroke-width="0.9" stroke-linejoin="miter"/>
<g font-size="16.2" fill="#000"><text x="51.2" y="507.1" text-anchor="end">0</text><text x="51.2" y="459.9" text-anchor="end">1</text><text x="51.2" y="412.6" text-anchor="end">2</text><text x="51.2" y="365.4" text-anchor="end">3</text><text x="51.2" y="318.1" text-anchor="end">4</text><text x="51.2" y="270.9" text-anchor="end">5</text><text x="51.2" y="223.6" text-anchor="end">6</text><text x="51.2" y="176.3" text-anchor="end">7</text><text x="51.2" y="129.1" text-anchor="end">8</text><text x="1028.3" y="507.1" text-anchor="start">0</text><text x="1028.3" y="459.9" text-anchor="start">5</text><text x="1028.3" y="412.6" text-anchor="start">10</text><text x="1028.3" y="365.4" text-anchor="start">15</text><text x="1028.3" y="318.1" text-anchor="start">20</text><text x="1028.3" y="270.9" text-anchor="start">25</text><text x="1028.3" y="223.6" text-anchor="start">30</text><text x="1028.3" y="176.3" text-anchor="start">35</text><text x="1028.3" y="129.1" text-anchor="start">40</text></g>
<text transform="translate(20.7,313.1) rotate(-90)" font-size="24" text-anchor="middle" fill="#000" textLength="219.8" lengthAdjust="spacingAndGlyphs">Wave Height - Metres</text>
<text transform="translate(1058.6,311.5) rotate(90)" font-size="24" text-anchor="middle" fill="#000" textLength="203.4" lengthAdjust="spacingAndGlyphs">Wind Speed - Knots</text>
<text x="131.1" y="529" font-size="16.5" font-weight="bold" text-anchor="middle" fill="#000" textLength="69.6" lengthAdjust="spacingAndGlyphs">Saturday</text>
<text x="129.9" y="552.6" font-size="17.5" text-anchor="middle" fill="#808080" stroke="#808080" stroke-width="0.3" textLength="37.8" lengthAdjust="spacingAndGlyphs">10th</text>
<text x="128.5" y="58.9" font-size="16.2" text-anchor="middle" fill="#000" textLength="54.4" lengthAdjust="spacingAndGlyphs">23-29°</text>
<text x="267.0" y="529" font-size="16.5" font-weight="bold" text-anchor="middle" fill="#000" textLength="58.5" lengthAdjust="spacingAndGlyphs">Sunday</text>
<text x="266.5" y="552.6" font-size="17.5" text-anchor="middle" fill="#808080" stroke="#808080" stroke-width="0.3" textLength="37.8" lengthAdjust="spacingAndGlyphs">11th</text>
<text x="265.1" y="58.9" font-size="16.2" text-anchor="middle" fill="#000" textLength="54.4" lengthAdjust="spacingAndGlyphs">24-30°</text>
<text x="401.3" y="529" font-size="16.5" font-weight="normal" text-anchor="middle" fill="#000" textLength="57.4" lengthAdjust="spacingAndGlyphs">Monday</text>
<text x="403.0" y="552.6" font-size="17.5" text-anchor="middle" fill="#808080" stroke="#808080" stroke-width="0.3" textLength="37.8" lengthAdjust="spacingAndGlyphs">12th</text>
<text x="401.6" y="58.9" font-size="16.2" text-anchor="middle" fill="#000" textLength="54.4" lengthAdjust="spacingAndGlyphs">25-31°</text>
<text x="538.5" y="529" font-size="16.5" font-weight="normal" text-anchor="middle" fill="#000" textLength="62.2" lengthAdjust="spacingAndGlyphs">Tuesday</text>
<text x="539.6" y="552.6" font-size="17.5" text-anchor="middle" fill="#808080" stroke="#808080" stroke-width="0.3" textLength="37.8" lengthAdjust="spacingAndGlyphs">13th</text>
<text x="538.2" y="58.9" font-size="16.2" text-anchor="middle" fill="#000" textLength="54.4" lengthAdjust="spacingAndGlyphs">25-33°</text>
<text x="673.9" y="529" font-size="16.5" font-weight="normal" text-anchor="middle" fill="#000" textLength="86.3" lengthAdjust="spacingAndGlyphs">Wednesday</text>
<text x="676.2" y="552.6" font-size="17.5" text-anchor="middle" fill="#808080" stroke="#808080" stroke-width="0.3" textLength="37.8" lengthAdjust="spacingAndGlyphs">14th</text>
<text x="674.8" y="58.9" font-size="16.2" text-anchor="middle" fill="#000" textLength="54.4" lengthAdjust="spacingAndGlyphs">25-32°</text>
<text x="811.8" y="529" font-size="16.5" font-weight="normal" text-anchor="middle" fill="#000" textLength="69.2" lengthAdjust="spacingAndGlyphs">Thursday</text>
<text x="812.7" y="552.6" font-size="17.5" text-anchor="middle" fill="#808080" stroke="#808080" stroke-width="0.3" textLength="37.8" lengthAdjust="spacingAndGlyphs">15th</text>
<text x="811.3" y="58.9" font-size="16.2" text-anchor="middle" fill="#000" textLength="54.4" lengthAdjust="spacingAndGlyphs">25-32°</text>
<text x="948.6" y="529" font-size="16.5" font-weight="normal" text-anchor="middle" fill="#000" textLength="45.6" lengthAdjust="spacingAndGlyphs">Friday</text>
<text x="949.3" y="552.6" font-size="17.5" text-anchor="middle" fill="#808080" stroke="#808080" stroke-width="0.3" textLength="37.8" lengthAdjust="spacingAndGlyphs">16th</text>
<text x="947.9" y="58.9" font-size="16.2" text-anchor="middle" fill="#000" textLength="54.4" lengthAdjust="spacingAndGlyphs">25-33°</text>
<text x="893.3" y="494.6" font-size="11" fill="#b4b4b4" textLength="117.5" lengthAdjust="spacing">www.seabreeze.com.au</text>
<defs>
<radialGradient id="gcd" cx="0.45" cy="0.25" r="0.85"><stop offset="0" stop-color="#cacaca"/><stop offset="0.55" stop-color="#a6a6a6"/><stop offset="1" stop-color="#7a7a7a"/></radialGradient>
<radialGradient id="gcl" cx="0.45" cy="0.25" r="0.85"><stop offset="0" stop-color="#ececec"/><stop offset="0.55" stop-color="#cccccc"/><stop offset="1" stop-color="#9c9c9c"/></radialGradient>
<radialGradient id="gdr" cx="0.4" cy="0.35" r="0.7"><stop offset="0" stop-color="#7fd8ff"/><stop offset="0.5" stop-color="#18a8e8"/><stop offset="1" stop-color="#0a78b8"/></radialGradient>
<radialGradient id="gsun" cx="0.5" cy="0.3" r="0.8"><stop offset="0" stop-color="#ffe600"/><stop offset="0.55" stop-color="#ffd000"/><stop offset="1" stop-color="#f29a10"/></radialGradient>
<linearGradient id="gray" x1="0.6" y1="0" x2="0.3" y2="1"><stop offset="0" stop-color="#ffe200"/><stop offset="0.55" stop-color="#ffd600"/><stop offset="0.8" stop-color="#f9ae18"/><stop offset="1" stop-color="#f09418"/></linearGradient>
<linearGradient id="gbolt" x1="0" y1="0" x2="0.4" y2="1"><stop offset="0" stop-color="#f0a020"/><stop offset="0.35" stop-color="#ffe800"/><stop offset="0.7" stop-color="#ffd800"/><stop offset="1" stop-color="#f09a20"/></linearGradient>
<filter id="soft" x="-10%" y="-10%" width="120%" height="120%"><feGaussianBlur stdDeviation="0.35"/></filter>
</defs>
<g transform="translate(0.0,0)" filter="url(#soft)"><path d="M24 60 C14 60 9 55 7 50 C2 47 0 41 0 35 C0 26 7 19 16 19.5 C19 9 28 3 38 4 C44 1 50 0 57 0 C68 0 78 6 82 17 C92 17 100 25 100 35 C100 42 97 47 93 50 C91 56 85 60 76 60 Z" transform="translate(101.8,68.0) scale(0.3800,0.3917)" fill="url(#gcd)" stroke="#888" stroke-width="1.32"/><path d="M24 60 C14 60 9 55 7 50 C2 47 0 41 0 35 C0 26 7 19 16 19.5 C19 9 28 3 38 4 C44 1 50 0 57 0 C68 0 78 6 82 17 C92 17 100 25 100 35 C100 42 97 47 93 50 C91 56 85 60 76 60 Z" transform="translate(118.2,74.3) scale(0.4000,0.3917)" fill="url(#gcd)" stroke="#888" stroke-width="1.25"/><path d="M-2.7 -4.4 C0.3 -3.7 3.4 -0.8 3.5 1.7 C3.6 3.8 1.9 4.8 0.2 4.6 C-1.9 4.3 -3.1 2.3 -3.1 0 C-3.1 -1.6 -3 -3.1 -2.7 -4.4 Z" transform="translate(113.8,97.2)" fill="url(#gdr)" stroke="#0c7cbc" stroke-width="0.45"/><ellipse cx="112.9" cy="96.6" rx="0.9" ry="1.5" transform="rotate(-25 112.9 96.6)" fill="#fff" opacity="0.55"/><path d="M-2.7 -4.4 C0.3 -3.7 3.4 -0.8 3.5 1.7 C3.6 3.8 1.9 4.8 0.2 4.6 C-1.9 4.3 -3.1 2.3 -3.1 0 C-3.1 -1.6 -3 -3.1 -2.7 -4.4 Z" transform="translate(113.8,116.6)" fill="url(#gdr)" stroke="#0c7cbc" stroke-width="0.45"/><ellipse cx="112.9" cy="116.0" rx="0.9" ry="1.5" transform="rotate(-25 112.9 116.0)" fill="#fff" opacity="0.55"/><path d="M-2.7 -4.4 C0.3 -3.7 3.4 -0.8 3.5 1.7 C3.6 3.8 1.9 4.8 0.2 4.6 C-1.9 4.3 -3.1 2.3 -3.1 0 C-3.1 -1.6 -3 -3.1 -2.7 -4.4 Z" transform="translate(127.5,97.2)" fill="url(#gdr)" stroke="#0c7cbc" stroke-width="0.45"/><ellipse cx="126.6" cy="96.6" rx="0.9" ry="1.5" transform="rotate(-25 126.6 96.6)" fill="#fff" opacity="0.55"/><path d="M-2.7 -4.4 C0.3 -3.7 3.4 -0.8 3.5 1.7 C3.6 3.8 1.9 4.8 0.2 4.6 C-1.9 4.3 -3.1 2.3 -3.1 0 C-3.1 -1.6 -3 -3.1 -2.7 -4.4 Z" transform="translate(127.5,116.6)" fill="url(#gdr)" stroke="#0c7cbc" stroke-width="0.45"/><ellipse cx="126.6" cy="116.0" rx="0.9" ry="1.5" transform="rotate(-25 126.6 116.0)" fill="#fff" opacity="0.55"/><path d="M-2.7 -4.4 C0.3 -3.7 3.4 -0.8 3.5 1.7 C3.6 3.8 1.9 4.8 0.2 4.6 C-1.9 4.3 -3.1 2.3 -3.1 0 C-3.1 -1.6 -3 -3.1 -2.7 -4.4 Z" transform="translate(141.2,97.2)" fill="url(#gdr)" stroke="#0c7cbc" stroke-width="0.45"/><ellipse cx="140.3" cy="96.6" rx="0.9" ry="1.5" transform="rotate(-25 140.3 96.6)" fill="#fff" opacity="0.55"/><path d="M-2.7 -4.4 C0.3 -3.7 3.4 -0.8 3.5 1.7 C3.6 3.8 1.9 4.8 0.2 4.6 C-1.9 4.3 -3.1 2.3 -3.1 0 C-3.1 -1.6 -3 -3.1 -2.7 -4.4 Z" transform="translate(141.2,116.6)" fill="url(#gdr)" stroke="#0c7cbc" stroke-width="0.45"/><ellipse cx="140.3" cy="116.0" rx="0.9" ry="1.5" transform="rotate(-25 140.3 116.0)" fill="#fff" opacity="0.55"/><path d="M-2.7 -4.4 C0.3 -3.7 3.4 -0.8 3.5 1.7 C3.6 3.8 1.9 4.8 0.2 4.6 C-1.9 4.3 -3.1 2.3 -3.1 0 C-3.1 -1.6 -3 -3.1 -2.7 -4.4 Z" transform="translate(107.0,106.6)" fill="url(#gdr)" stroke="#0c7cbc" stroke-width="0.45"/><ellipse cx="106.1" cy="106.0" rx="0.9" ry="1.5" transform="rotate(-25 106.1 106.0)" fill="#fff" opacity="0.55"/><path d="M-2.7 -4.4 C0.3 -3.7 3.4 -0.8 3.5 1.7 C3.6 3.8 1.9 4.8 0.2 4.6 C-1.9 4.3 -3.1 2.3 -3.1 0 C-3.1 -1.6 -3 -3.1 -2.7 -4.4 Z" transform="translate(120.7,106.6)" fill="url(#gdr)" stroke="#0c7cbc" stroke-width="0.45"/><ellipse cx="119.8" cy="106.0" rx="0.9" ry="1.5" transform="rotate(-25 119.8 106.0)" fill="#fff" opacity="0.55"/><path d="M-2.7 -4.4 C0.3 -3.7 3.4 -0.8 3.5 1.7 C3.6 3.8 1.9 4.8 0.2 4.6 C-1.9 4.3 -3.1 2.3 -3.1 0 C-3.1 -1.6 -3 -3.1 -2.7 -4.4 Z" transform="translate(134.4,106.6)" fill="url(#gdr)" stroke="#0c7cbc" stroke-width="0.45"/><ellipse cx="133.5" cy="106.0" rx="0.9" ry="1.5" transform="rotate(-25 133.5 106.0)" fill="#fff" opacity="0.55"/><path d="M-2.7 -4.4 C0.3 -3.7 3.4 -0.8 3.5 1.7 C3.6 3.8 1.9 4.8 0.2 4.6 C-1.9 4.3 -3.1 2.3 -3.1 0 C-3.1 -1.6 -3 -3.1 -2.7 -4.4 Z" transform="translate(148.1,106.6)" fill="url(#gdr)" stroke="#0c7cbc" stroke-width="0.45"/><ellipse cx="147.2" cy="106.0" rx="0.9" ry="1.5" transform="rotate(-25 147.2 106.0)" fill="#fff" opacity="0.55"/></g>
<g transform="translate(136.6,0)" filter="url(#soft)"><path d="M24 60 C14 60 9 55 7 50 C2 47 0 41 0 35 C0 26 7 19 16 19.5 C19 9 28 3 38 4 C44 1 50 0 57 0 C68 0 78 6 82 17 C92 17 100 25 100 35 C100 42 97 47 93 50 C91 56 85 60 76 60 Z" transform="translate(101.8,68.0) scale(0.3800,0.3917)" fill="url(#gcd)" stroke="#888" stroke-width="1.32"/><path d="M24 60 C14 60 9 55 7 50 C2 47 0 41 0 35 C0 26 7 19 16 19.5 C19 9 28 3 38 4 C44 1 50 0 57 0 C68 0 78 6 82 17 C92 17 100 25 100 35 C100 42 97 47 93 50 C91 56 85 60 76 60 Z" transform="translate(118.2,74.3) scale(0.4000,0.3917)" fill="url(#gcd)" stroke="#888" stroke-width="1.25"/><path d="M-2.7 -4.4 C0.3 -3.7 3.4 -0.8 3.5 1.7 C3.6 3.8 1.9 4.8 0.2 4.6 C-1.9 4.3 -3.1 2.3 -3.1 0 C-3.1 -1.6 -3 -3.1 -2.7 -4.4 Z" transform="translate(113.8,97.2)" fill="url(#gdr)" stroke="#0c7cbc" stroke-width="0.45"/><ellipse cx="112.9" cy="96.6" rx="0.9" ry="1.5" transform="rotate(-25 112.9 96.6)" fill="#fff" opacity="0.55"/><path d="M-2.7 -4.4 C0.3 -3.7 3.4 -0.8 3.5 1.7 C3.6 3.8 1.9 4.8 0.2 4.6 C-1.9 4.3 -3.1 2.3 -3.1 0 C-3.1 -1.6 -3 -3.1 -2.7 -4.4 Z" transform="translate(113.8,116.6)" fill="url(#gdr)" stroke="#0c7cbc" stroke-width="0.45"/><ellipse cx="112.9" cy="116.0" rx="0.9" ry="1.5" transform="rotate(-25 112.9 116.0)" fill="#fff" opacity="0.55"/><path d="M-2.7 -4.4 C0.3 -3.7 3.4 -0.8 3.5 1.7 C3.6 3.8 1.9 4.8 0.2 4.6 C-1.9 4.3 -3.1 2.3 -3.1 0 C-3.1 -1.6 -3 -3.1 -2.7 -4.4 Z" transform="translate(127.5,97.2)" fill="url(#gdr)" stroke="#0c7cbc" stroke-width="0.45"/><ellipse cx="126.6" cy="96.6" rx="0.9" ry="1.5" transform="rotate(-25 126.6 96.6)" fill="#fff" opacity="0.55"/><path d="M-2.7 -4.4 C0.3 -3.7 3.4 -0.8 3.5 1.7 C3.6 3.8 1.9 4.8 0.2 4.6 C-1.9 4.3 -3.1 2.3 -3.1 0 C-3.1 -1.6 -3 -3.1 -2.7 -4.4 Z" transform="translate(127.5,116.6)" fill="url(#gdr)" stroke="#0c7cbc" stroke-width="0.45"/><ellipse cx="126.6" cy="116.0" rx="0.9" ry="1.5" transform="rotate(-25 126.6 116.0)" fill="#fff" opacity="0.55"/><path d="M-2.7 -4.4 C0.3 -3.7 3.4 -0.8 3.5 1.7 C3.6 3.8 1.9 4.8 0.2 4.6 C-1.9 4.3 -3.1 2.3 -3.1 0 C-3.1 -1.6 -3 -3.1 -2.7 -4.4 Z" transform="translate(141.2,97.2)" fill="url(#gdr)" stroke="#0c7cbc" stroke-width="0.45"/><ellipse cx="140.3" cy="96.6" rx="0.9" ry="1.5" transform="rotate(-25 140.3 96.6)" fill="#fff" opacity="0.55"/><path d="M-2.7 -4.4 C0.3 -3.7 3.4 -0.8 3.5 1.7 C3.6 3.8 1.9 4.8 0.2 4.6 C-1.9 4.3 -3.1 2.3 -3.1 0 C-3.1 -1.6 -3 -3.1 -2.7 -4.4 Z" transform="translate(141.2,116.6)" fill="url(#gdr)" stroke="#0c7cbc" stroke-width="0.45"/><ellipse cx="140.3" cy="116.0" rx="0.9" ry="1.5" transform="rotate(-25 140.3 116.0)" fill="#fff" opacity="0.55"/><path d="M-2.7 -4.4 C0.3 -3.7 3.4 -0.8 3.5 1.7 C3.6 3.8 1.9 4.8 0.2 4.6 C-1.9 4.3 -3.1 2.3 -3.1 0 C-3.1 -1.6 -3 -3.1 -2.7 -4.4 Z" transform="translate(107.0,106.6)" fill="url(#gdr)" stroke="#0c7cbc" stroke-width="0.45"/><ellipse cx="106.1" cy="106.0" rx="0.9" ry="1.5" transform="rotate(-25 106.1 106.0)" fill="#fff" opacity="0.55"/><path d="M-2.7 -4.4 C0.3 -3.7 3.4 -0.8 3.5 1.7 C3.6 3.8 1.9 4.8 0.2 4.6 C-1.9 4.3 -3.1 2.3 -3.1 0 C-3.1 -1.6 -3 -3.1 -2.7 -4.4 Z" transform="translate(120.7,106.6)" fill="url(#gdr)" stroke="#0c7cbc" stroke-width="0.45"/><ellipse cx="119.8" cy="106.0" rx="0.9" ry="1.5" transform="rotate(-25 119.8 106.0)" fill="#fff" opacity="0.55"/><path d="M-2.7 -4.4 C0.3 -3.7 3.4 -0.8 3.5 1.7 C3.6 3.8 1.9 4.8 0.2 4.6 C-1.9 4.3 -3.1 2.3 -3.1 0 C-3.1 -1.6 -3 -3.1 -2.7 -4.4 Z" transform="translate(134.4,106.6)" fill="url(#gdr)" stroke="#0c7cbc" stroke-width="0.45"/><ellipse cx="133.5" cy="106.0" rx="0.9" ry="1.5" transform="rotate(-25 133.5 106.0)" fill="#fff" opacity="0.55"/><path d="M-2.7 -4.4 C0.3 -3.7 3.4 -0.8 3.5 1.7 C3.6 3.8 1.9 4.8 0.2 4.6 C-1.9 4.3 -3.1 2.3 -3.1 0 C-3.1 -1.6 -3 -3.1 -2.7 -4.4 Z" transform="translate(148.1,106.6)" fill="url(#gdr)" stroke="#0c7cbc" stroke-width="0.45"/><ellipse cx="147.2" cy="106.0" rx="0.9" ry="1.5" transform="rotate(-25 147.2 106.0)" fill="#fff" opacity="0.55"/></g>
<g transform="translate(0.0,0)" filter="url(#soft)"><path d="M400.4 80.7L402.9 67.4L405.4 80.7ZM405.7 80.8L411.4 73.4L410.3 82.7ZM410.5 82.9L421.7 75.2L414.0 86.4ZM414.2 86.6L423.5 85.5L416.1 91.2ZM416.2 91.5L429.5 94.0L416.2 96.5ZM416.1 96.8L423.5 102.5L414.2 101.4ZM414.0 101.6L421.7 112.8L410.5 105.1ZM410.3 105.3L411.4 114.6L405.7 107.2ZM405.4 107.3L402.9 120.6L400.4 107.3ZM400.1 107.2L394.4 114.6L395.5 105.3ZM395.3 105.1L384.1 112.8L391.8 101.6ZM391.6 101.4L382.3 102.5L389.7 96.8ZM389.6 96.5L376.3 94.0L389.6 91.5ZM389.7 91.2L382.3 85.5L391.6 86.6ZM391.8 86.4L384.1 75.2L395.3 82.9ZM395.5 82.7L394.4 73.4L400.1 80.8Z" fill="url(#gray)" stroke="#d89a20" stroke-width="0.3"/><circle cx="402.9" cy="94.0" r="14.6" fill="url(#gsun)" stroke="#e8a010" stroke-width="0.5"/><path d="M24 60 C14 60 9 55 7 50 C2 47 0 41 0 35 C0 26 7 19 16 19.5 C19 9 28 3 38 4 C44 1 50 0 57 0 C68 0 78 6 82 17 C92 17 100 25 100 35 C100 42 97 47 93 50 C91 56 85 60 76 60 Z" transform="translate(391.7,85.7) scale(0.3960,0.3617)" fill="url(#gcl)" stroke="#9a9a9a" stroke-width="1.26"/><path d="M-2.7 -4.4 C0.3 -3.7 3.4 -0.8 3.5 1.7 C3.6 3.8 1.9 4.8 0.2 4.6 C-1.9 4.3 -3.1 2.3 -3.1 0 C-3.1 -1.6 -3 -3.1 -2.7 -4.4 Z" transform="translate(398.0,106.2)" fill="url(#gdr)" stroke="#0c7cbc" stroke-width="0.45"/><ellipse cx="397.1" cy="105.6" rx="0.9" ry="1.5" transform="rotate(-25 397.1 105.6)" fill="#fff" opacity="0.55"/><path d="M-2.7 -4.4 C0.3 -3.7 3.4 -0.8 3.5 1.7 C3.6 3.8 1.9 4.8 0.2 4.6 C-1.9 4.3 -3.1 2.3 -3.1 0 C-3.1 -1.6 -3 -3.1 -2.7 -4.4 Z" transform="translate(411.7,105.7)" fill="url(#gdr)" stroke="#0c7cbc" stroke-width="0.45"/><ellipse cx="410.8" cy="105.1" rx="0.9" ry="1.5" transform="rotate(-25 410.8 105.1)" fill="#fff" opacity="0.55"/><path d="M-2.7 -4.4 C0.3 -3.7 3.4 -0.8 3.5 1.7 C3.6 3.8 1.9 4.8 0.2 4.6 C-1.9 4.3 -3.1 2.3 -3.1 0 C-3.1 -1.6 -3 -3.1 -2.7 -4.4 Z" transform="translate(426.0,106.8)" fill="url(#gdr)" stroke="#0c7cbc" stroke-width="0.45"/><ellipse cx="425.1" cy="106.2" rx="0.9" ry="1.5" transform="rotate(-25 425.1 106.2)" fill="#fff" opacity="0.55"/><path d="M-2.7 -4.4 C0.3 -3.7 3.4 -0.8 3.5 1.7 C3.6 3.8 1.9 4.8 0.2 4.6 C-1.9 4.3 -3.1 2.3 -3.1 0 C-3.1 -1.6 -3 -3.1 -2.7 -4.4 Z" transform="translate(404.8,116.5)" fill="url(#gdr)" stroke="#0c7cbc" stroke-width="0.45"/><ellipse cx="403.9" cy="115.9" rx="0.9" ry="1.5" transform="rotate(-25 403.9 115.9)" fill="#fff" opacity="0.55"/><path d="M-2.7 -4.4 C0.3 -3.7 3.4 -0.8 3.5 1.7 C3.6 3.8 1.9 4.8 0.2 4.6 C-1.9 4.3 -3.1 2.3 -3.1 0 C-3.1 -1.6 -3 -3.1 -2.7 -4.4 Z" transform="translate(418.5,116.5)" fill="url(#gdr)" stroke="#0c7cbc" stroke-width="0.45"/><ellipse cx="417.6" cy="115.9" rx="0.9" ry="1.5" transform="rotate(-25 417.6 115.9)" fill="#fff" opacity="0.55"/></g>
<g transform="translate(136.6,0)" filter="url(#soft)"><path d="M400.4 80.7L402.9 67.4L405.4 80.7ZM405.7 80.8L411.4 73.4L410.3 82.7ZM410.5 82.9L421.7 75.2L414.0 86.4ZM414.2 86.6L423.5 85.5L416.1 91.2ZM416.2 91.5L429.5 94.0L416.2 96.5ZM416.1 96.8L423.5 102.5L414.2 101.4ZM414.0 101.6L421.7 112.8L410.5 105.1ZM410.3 105.3L411.4 114.6L405.7 107.2ZM405.4 107.3L402.9 120.6L400.4 107.3ZM400.1 107.2L394.4 114.6L395.5 105.3ZM395.3 105.1L384.1 112.8L391.8 101.6ZM391.6 101.4L382.3 102.5L389.7 96.8ZM389.6 96.5L376.3 94.0L389.6 91.5ZM389.7 91.2L382.3 85.5L391.6 86.6ZM391.8 86.4L384.1 75.2L395.3 82.9ZM395.5 82.7L394.4 73.4L400.1 80.8Z" fill="url(#gray)" stroke="#d89a20" stroke-width="0.3"/><circle cx="402.9" cy="94.0" r="14.6" fill="url(#gsun)" stroke="#e8a010" stroke-width="0.5"/><path d="M24 60 C14 60 9 55 7 50 C2 47 0 41 0 35 C0 26 7 19 16 19.5 C19 9 28 3 38 4 C44 1 50 0 57 0 C68 0 78 6 82 17 C92 17 100 25 100 35 C100 42 97 47 93 50 C91 56 85 60 76 60 Z" transform="translate(391.7,85.7) scale(0.3960,0.3617)" fill="url(#gcl)" stroke="#9a9a9a" stroke-width="1.26"/><path d="M-2.7 -4.4 C0.3 -3.7 3.4 -0.8 3.5 1.7 C3.6 3.8 1.9 4.8 0.2 4.6 C-1.9 4.3 -3.1 2.3 -3.1 0 C-3.1 -1.6 -3 -3.1 -2.7 -4.4 Z" transform="translate(398.0,106.2)" fill="url(#gdr)" stroke="#0c7cbc" stroke-width="0.45"/><ellipse cx="397.1" cy="105.6" rx="0.9" ry="1.5" transform="rotate(-25 397.1 105.6)" fill="#fff" opacity="0.55"/><path d="M-2.7 -4.4 C0.3 -3.7 3.4 -0.8 3.5 1.7 C3.6 3.8 1.9 4.8 0.2 4.6 C-1.9 4.3 -3.1 2.3 -3.1 0 C-3.1 -1.6 -3 -3.1 -2.7 -4.4 Z" transform="translate(411.7,105.7)" fill="url(#gdr)" stroke="#0c7cbc" stroke-width="0.45"/><ellipse cx="410.8" cy="105.1" rx="0.9" ry="1.5" transform="rotate(-25 410.8 105.1)" fill="#fff" opacity="0.55"/><path d="M-2.7 -4.4 C0.3 -3.7 3.4 -0.8 3.5 1.7 C3.6 3.8 1.9 4.8 0.2 4.6 C-1.9 4.3 -3.1 2.3 -3.1 0 C-3.1 -1.6 -3 -3.1 -2.7 -4.4 Z" transform="translate(426.0,106.8)" fill="url(#gdr)" stroke="#0c7cbc" stroke-width="0.45"/><ellipse cx="425.1" cy="106.2" rx="0.9" ry="1.5" transform="rotate(-25 425.1 106.2)" fill="#fff" opacity="0.55"/><path d="M-2.7 -4.4 C0.3 -3.7 3.4 -0.8 3.5 1.7 C3.6 3.8 1.9 4.8 0.2 4.6 C-1.9 4.3 -3.1 2.3 -3.1 0 C-3.1 -1.6 -3 -3.1 -2.7 -4.4 Z" transform="translate(404.8,116.5)" fill="url(#gdr)" stroke="#0c7cbc" stroke-width="0.45"/><ellipse cx="403.9" cy="115.9" rx="0.9" ry="1.5" transform="rotate(-25 403.9 115.9)" fill="#fff" opacity="0.55"/><path d="M-2.7 -4.4 C0.3 -3.7 3.4 -0.8 3.5 1.7 C3.6 3.8 1.9 4.8 0.2 4.6 C-1.9 4.3 -3.1 2.3 -3.1 0 C-3.1 -1.6 -3 -3.1 -2.7 -4.4 Z" transform="translate(418.5,116.5)" fill="url(#gdr)" stroke="#0c7cbc" stroke-width="0.45"/><ellipse cx="417.6" cy="115.9" rx="0.9" ry="1.5" transform="rotate(-25 417.6 115.9)" fill="#fff" opacity="0.55"/></g>
<g transform="translate(546.3,0)" filter="url(#soft)"><path d="M400.4 80.7L402.9 67.4L405.4 80.7ZM405.7 80.8L411.4 73.4L410.3 82.7ZM410.5 82.9L421.7 75.2L414.0 86.4ZM414.2 86.6L423.5 85.5L416.1 91.2ZM416.2 91.5L429.5 94.0L416.2 96.5ZM416.1 96.8L423.5 102.5L414.2 101.4ZM414.0 101.6L421.7 112.8L410.5 105.1ZM410.3 105.3L411.4 114.6L405.7 107.2ZM405.4 107.3L402.9 120.6L400.4 107.3ZM400.1 107.2L394.4 114.6L395.5 105.3ZM395.3 105.1L384.1 112.8L391.8 101.6ZM391.6 101.4L382.3 102.5L389.7 96.8ZM389.6 96.5L376.3 94.0L389.6 91.5ZM389.7 91.2L382.3 85.5L391.6 86.6ZM391.8 86.4L384.1 75.2L395.3 82.9ZM395.5 82.7L394.4 73.4L400.1 80.8Z" fill="url(#gray)" stroke="#d89a20" stroke-width="0.3"/><circle cx="402.9" cy="94.0" r="14.6" fill="url(#gsun)" stroke="#e8a010" stroke-width="0.5"/><path d="M24 60 C14 60 9 55 7 50 C2 47 0 41 0 35 C0 26 7 19 16 19.5 C19 9 28 3 38 4 C44 1 50 0 57 0 C68 0 78 6 82 17 C92 17 100 25 100 35 C100 42 97 47 93 50 C91 56 85 60 76 60 Z" transform="translate(391.7,85.7) scale(0.3960,0.3617)" fill="url(#gcl)" stroke="#9a9a9a" stroke-width="1.26"/><path d="M-2.7 -4.4 C0.3 -3.7 3.4 -0.8 3.5 1.7 C3.6 3.8 1.9 4.8 0.2 4.6 C-1.9 4.3 -3.1 2.3 -3.1 0 C-3.1 -1.6 -3 -3.1 -2.7 -4.4 Z" transform="translate(398.0,106.2)" fill="url(#gdr)" stroke="#0c7cbc" stroke-width="0.45"/><ellipse cx="397.1" cy="105.6" rx="0.9" ry="1.5" transform="rotate(-25 397.1 105.6)" fill="#fff" opacity="0.55"/><path d="M-2.7 -4.4 C0.3 -3.7 3.4 -0.8 3.5 1.7 C3.6 3.8 1.9 4.8 0.2 4.6 C-1.9 4.3 -3.1 2.3 -3.1 0 C-3.1 -1.6 -3 -3.1 -2.7 -4.4 Z" transform="translate(411.7,105.7)" fill="url(#gdr)" stroke="#0c7cbc" stroke-width="0.45"/><ellipse cx="410.8" cy="105.1" rx="0.9" ry="1.5" transform="rotate(-25 410.8 105.1)" fill="#fff" opacity="0.55"/><path d="M-2.7 -4.4 C0.3 -3.7 3.4 -0.8 3.5 1.7 C3.6 3.8 1.9 4.8 0.2 4.6 C-1.9 4.3 -3.1 2.3 -3.1 0 C-3.1 -1.6 -3 -3.1 -2.7 -4.4 Z" transform="translate(426.0,106.8)" fill="url(#gdr)" stroke="#0c7cbc" stroke-width="0.45"/><ellipse cx="425.1" cy="106.2" rx="0.9" ry="1.5" transform="rotate(-25 425.1 106.2)" fill="#fff" opacity="0.55"/><path d="M-2.7 -4.4 C0.3 -3.7 3.4 -0.8 3.5 1.7 C3.6 3.8 1.9 4.8 0.2 4.6 C-1.9 4.3 -3.1 2.3 -3.1 0 C-3.1 -1.6 -3 -3.1 -2.7 -4.4 Z" transform="translate(404.8,116.5)" fill="url(#gdr)" stroke="#0c7cbc" stroke-width="0.45"/><ellipse cx="403.9" cy="115.9" rx="0.9" ry="1.5" transform="rotate(-25 403.9 115.9)" fill="#fff" opacity="0.55"/><path d="M-2.7 -4.4 C0.3 -3.7 3.4 -0.8 3.5 1.7 C3.6 3.8 1.9 4.8 0.2 4.6 C-1.9 4.3 -3.1 2.3 -3.1 0 C-3.1 -1.6 -3 -3.1 -2.7 -4.4 Z" transform="translate(418.5,116.5)" fill="url(#gdr)" stroke="#0c7cbc" stroke-width="0.45"/><ellipse cx="417.6" cy="115.9" rx="0.9" ry="1.5" transform="rotate(-25 417.6 115.9)" fill="#fff" opacity="0.55"/></g>
<g transform="translate(0.0,0)" filter="url(#soft)"><path d="M653.7 92.5 L661 94.3 L658.3 96.5 L659.6 103 L654.3 94.5Z" fill="url(#gbolt)"/><path d="M688.5 101.1 L695.4 101.7 L692 104 L693.2 110.4 L689 103Z" fill="url(#gbolt)"/><path d="M24 60 C14 60 9 55 7 50 C2 47 0 41 0 35 C0 26 7 19 16 19.5 C19 9 28 3 38 4 C44 1 50 0 57 0 C68 0 78 6 82 17 C92 17 100 25 100 35 C100 42 97 47 93 50 C91 56 85 60 76 60 Z" transform="translate(648.0,70.8) scale(0.3700,0.3917)" fill="url(#gcl)" stroke="#a0a0a0" stroke-width="1.35"/><path d="M24 60 C14 60 9 55 7 50 C2 47 0 41 0 35 C0 26 7 19 16 19.5 C19 9 28 3 38 4 C44 1 50 0 57 0 C68 0 78 6 82 17 C92 17 100 25 100 35 C100 42 97 47 93 50 C91 56 85 60 76 60 Z" transform="translate(664.0,78.8) scale(0.4000,0.3733)" fill="url(#gcl)" stroke="#a0a0a0" stroke-width="1.25"/><path d="M680 76 L668 97.1 L676 99.4 L672 116.2 L685.7 92.5 L676.5 90.8 Z" fill="url(#gbolt)" stroke="#e8a020" stroke-width="0.4"/></g>
<g transform="translate(136.6,0)" filter="url(#soft)"><path d="M653.7 92.5 L661 94.3 L658.3 96.5 L659.6 103 L654.3 94.5Z" fill="url(#gbolt)"/><path d="M688.5 101.1 L695.4 101.7 L692 104 L693.2 110.4 L689 103Z" fill="url(#gbolt)"/><path d="M24 60 C14 60 9 55 7 50 C2 47 0 41 0 35 C0 26 7 19 16 19.5 C19 9 28 3 38 4 C44 1 50 0 57 0 C68 0 78 6 82 17 C92 17 100 25 100 35 C100 42 97 47 93 50 C91 56 85 60 76 60 Z" transform="translate(648.0,70.8) scale(0.3700,0.3917)" fill="url(#gcl)" stroke="#a0a0a0" stroke-width="1.35"/><path d="M24 60 C14 60 9 55 7 50 C2 47 0 41 0 35 C0 26 7 19 16 19.5 C19 9 28 3 38 4 C44 1 50 0 57 0 C68 0 78 6 82 17 C92 17 100 25 100 35 C100 42 97 47 93 50 C91 56 85 60 76 60 Z" transform="translate(664.0,78.8) scale(0.4000,0.3733)" fill="url(#gcl)" stroke="#a0a0a0" stroke-width="1.25"/><path d="M680 76 L668 97.1 L676 99.4 L672 116.2 L685.7 92.5 L676.5 90.8 Z" fill="url(#gbolt)" stroke="#e8a020" stroke-width="0.4"/></g>
</svg></body></html>
